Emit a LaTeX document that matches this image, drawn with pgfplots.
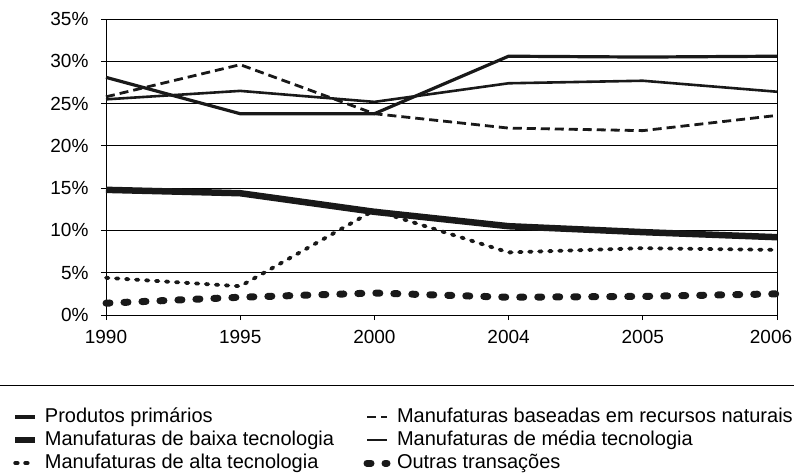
\documentclass[border=0pt]{standalone}
\usepackage{pgfplots}
\pgfplotsset{compat=1.18}
\usepackage{fontspec}
\setmainfont{Liberation Sans}
\begin{document}
\begin{tikzpicture}[x=1pt,y=1pt]
\useasboundingbox (-106pt,-159pt) rectangle (688pt,315pt);
\begin{axis}[
  at={(0,0)}, anchor=south west,
  scale only axis, width=671pt, height=296pt,
  xmin=0, xmax=5, ymin=0, ymax=35,
  xtick={0,1,2,3,4,5},
  xticklabels={1990,1995,2000,2004,2005,\hspace*{-12pt}2006},
  ytick={0,5,10,15,20,25,30,35},
  yticklabel={\pgfmathprintnumber{\tick}\%},
  /pgf/number format/assume math mode=true,
  ticklabel style={font=\fontsize{19}{22}\selectfont},
  xticklabel style={yshift=-7pt},
  yticklabel style={xshift=-9pt},
  ymajorgrids, grid style={black, line width=0.9pt},
  axis line style={black, line width=0.9pt},
  tick style={black, line width=0.9pt},
  tick align=outside, major tick length=5pt,
  xtick pos=bottom, ytick pos=left,
  clip=false,
  legend style={at={(axis description cs:-0.142,-0.302)}, anchor=north west,
    draw=none, fill=none, font=\fontsize{20}{23}\selectfont,
    legend columns=2, row sep=0pt, inner sep=1pt,
    nodes={inner sep=1.5pt, text height=15pt, text depth=5pt},
    /tikz/every odd column/.append style={column sep=5pt},
    /tikz/every even column/.append style={column sep=28pt},
    legend cell align=left},
  legend image code/.code={\draw[#1] (0pt,0pt) -- (20pt,0pt);},
]
\addplot[black!90, line width=3.2pt] coordinates {(0,28.1)(1,23.8)(2,23.8)(3,30.6)(4,30.5)(5,30.6)};
\addlegendentry{Produtos primários}
\addplot[black!90, line width=2.8pt, dash pattern=on 9pt off 5pt] coordinates {(0,25.8)(1,29.6)(2,23.8)(3,22.1)(4,21.8)(5,23.6)};
\addlegendentry{Manufaturas baseadas em recursos naturais}
\addplot[black!90, line width=6.5pt] coordinates {(0,14.8)(1,14.4)(2,12.2)(3,10.5)(4,9.8)(5,9.2)};
\addlegendentry{Manufaturas de baixa tecnologia}
\addplot[black!90, line width=2.6pt] coordinates {(0,25.5)(1,26.5)(2,25.2)(3,27.4)(4,27.7)(5,26.4)};
\addlegendentry{Manufaturas de média tecnologia}
\addplot[black!90, line width=3.8pt, line cap=round, dash pattern=on 2.5pt off 7.5pt] coordinates {(0,4.4)(1,3.4)(2,12.4)(3,7.4)(4,7.9)(5,7.7)};
\addlegendentry{Manufaturas de alta tecnologia}
\addplot[black!90, line width=7pt, line cap=round, dash pattern=on 4pt off 14pt] coordinates {(0,1.4)(1,2.1)(2,2.6)(3,2.1)(4,2.2)(5,2.5)};
\addlegendentry{Outras transações}
\end{axis}
\draw[black, line width=1pt] (-106pt,-70pt) -- (688pt,-70pt);
\end{tikzpicture}
\end{document}
